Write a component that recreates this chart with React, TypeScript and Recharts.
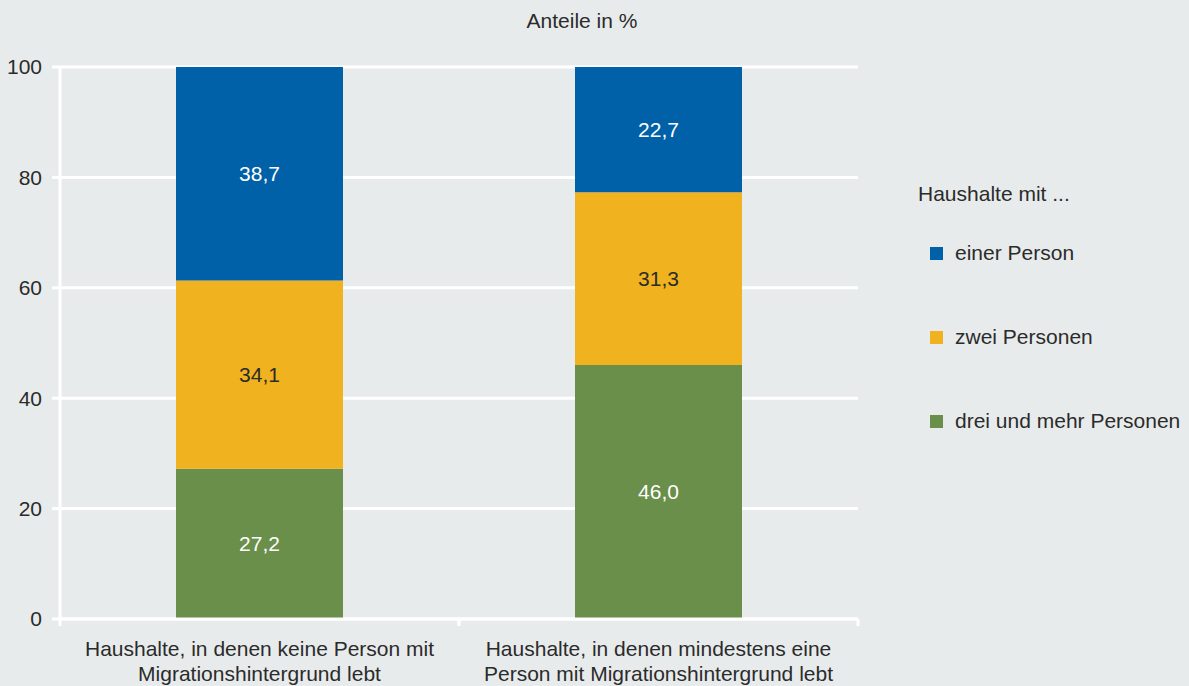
import { BarChart, Bar, XAxis, YAxis, CartesianGrid, LabelList, ReferenceLine } from 'recharts'

const categories = [
  'Haushalte, in denen keine Person mit\nMigrationshintergrund lebt',
  'Haushalte, in denen mindestens eine\nPerson mit Migrationshintergrund lebt',
]
const einePerson = [38.7, 22.7]
const zweiPersonen = [34.1, 31.3]
const dreiUndMehr = [27.2, 46.0]
const yTicks = [0, 20, 40, 60, 80, 100]

const seriesInfo = [
  { key: 'eine', name: 'einer Person', color: '#0060a8', labelColor: '#ffffff' },
  { key: 'zwei', name: 'zwei Personen', color: '#f0b31f', labelColor: '#2b2b2b' },
  { key: 'drei', name: 'drei und mehr Personen', color: '#698f4a', labelColor: '#ffffff' },
]

const chartData = categories.map((name, i) => ({
  name,
  eine: einePerson[i],
  zwei: zweiPersonen[i],
  drei: dreiUndMehr[i],
}))

const FONT = '"Liberation Sans", Arial, sans-serif'
const FS = 21
const TEXT = '#2b2b2b'
const BG = '#e8ebec'

const fmt = (v: any) => Number(v).toFixed(1).replace('.', ',')

// label plus tick marks at both edges of the category band
function CategoryTick(props: any) {
  const { x, y, payload } = props
  const half = payload.offset || 0
  const lines = String(payload.value).split('\n')
  return (
    <g>
      <line x1={x - half} x2={x - half} y1={y} y2={y + 7} stroke="#ffffff" strokeWidth={3} />
      <line x1={x + half} x2={x + half} y1={y} y2={y + 7} stroke="#ffffff" strokeWidth={3} />
      <text x={x} y={y + 37} textAnchor="middle" fill={TEXT} style={{ fontSize: FS, fontFamily: FONT }}>
        {lines.map((l, i) => (
          <tspan key={i} x={x} dy={i === 0 ? 0 : 25}>{l}</tspan>
        ))}
      </text>
    </g>
  )
}

function LegendBox() {
  return (
    <div style={{ position: 'absolute', left: 918, top: 182, fontFamily: FONT, fontSize: FS, color: TEXT }}>
      <div style={{ height: 24, marginBottom: 35 }}>Haushalte mit ...</div>
      {seriesInfo.map(s => (
        <div key={s.key} style={{ display: 'flex', alignItems: 'center', height: 24, marginBottom: 60, paddingLeft: 12 }}>
          <span style={{ display: 'inline-block', width: 13, height: 13, background: s.color, marginRight: 12 }} />
          <span>{s.name}</span>
        </div>
      ))}
    </div>
  )
}

export default function App() {
  const stackOrder = [...seriesInfo].reverse()
  return (
    <div style={{ position: 'absolute', left: 0, top: 0, width: 1189, height: 686, background: BG, fontFamily: FONT }}>
      <div style={{ position: 'absolute', left: 482, width: 200, top: 9, textAlign: 'center', fontSize: FS, color: TEXT }}>
        Anteile in %
      </div>
      <BarChart
        width={1189}
        height={686}
        data={chartData}
        margin={{ top: 67, right: 331, left: 0, bottom: 0 }}
      >
        <CartesianGrid vertical={false} stroke="#ffffff" strokeWidth={3} />
        <XAxis xAxisId="edges" type="number" domain={[0, 2]} hide />
        <XAxis
          xAxisId="cat"
          dataKey="name"
          height={67}
          axisLine={{ stroke: '#ffffff', strokeWidth: 3 }}
          tickLine={false}
          tickSize={0}
          tickMargin={0}
          interval={0}
          tick={<CategoryTick />}
        />
        <YAxis
          width={60}
          domain={[0, 100]}
          ticks={yTicks}
          tickSize={8}
          tickMargin={10}
          tickLine={{ stroke: '#ffffff', strokeWidth: 3 }}
          axisLine={{ stroke: '#ffffff', strokeWidth: 3 }}
          tick={{ fill: TEXT, fontSize: FS, fontFamily: FONT }}
        />
        <ReferenceLine xAxisId="edges" x={2} stroke="#ffffff" strokeWidth={3} />
        {stackOrder.map(s => (
          <Bar
            key={s.key}
            xAxisId="cat"
            dataKey={s.key}
            name={s.name}
            stackId="a"
            fill={s.color}
            barSize={167}
            isAnimationActive={false}
          >
            <LabelList
              dataKey={s.key}
              position="center"
              formatter={fmt}
              fill={s.labelColor}
              style={{ fontSize: FS, fontFamily: FONT }}
            />
          </Bar>
        ))}
      </BarChart>
      <LegendBox />
    </div>
  )
}
